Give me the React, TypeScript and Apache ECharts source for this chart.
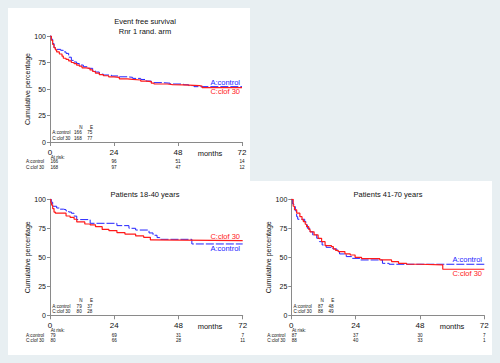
import React, { useEffect, useRef } from "react";
import * as echarts from "echarts";

// ---- data (months, survival %) ----
const p1Control: [number, number][] = [[0,100],[0.5,97],[1,93],[1.5,89],[2,87.4],[4,86.5],[5,85],[6,83.6],[7,80],[8,77],[9,75.5],[10,74],[11,72.6],[12.5,71],[14,69.5],[16,67.3],[17,66],[18.5,64],[20,63.2],[23,62.3],[26,61.5],[29,61],[31,60],[34,59],[36,57.5],[38,56],[42,55.5],[45,54.7],[50,54],[52,53.2],[54,52.2],[72,52.2]];
const p1Clof: [number, number][] = [[0,100],[0.5,96],[1,92],[1.5,89],[2,87],[2.5,85],[3.5,83],[4.5,81],[5,79],[6,78],[7,76.5],[8,75],[9,74],[10,72.5],[11,71.5],[12,70],[13.5,69.5],[15,68],[16,66.5],[17,65],[18.5,63.5],[20,62.5],[22,61.5],[24,61],[26,59.5],[29,59],[31,58.5],[34,57.5],[36,57],[38,55.5],[39,54.7],[44,54.2],[46,53.8],[50,53.2],[56,52.8],[57,51.3],[72,51.3]];
const p2Control: [number, number][] = [[0,100],[0.5,97.5],[1,94],[2.5,92.5],[3.5,91.5],[5,91],[6,90],[7,89],[8,88],[9,85.5],[10,82.5],[15,79.3],[25,77.3],[29.5,75],[32,73.5],[37,71],[38.5,69],[40,67],[41,65.5],[53,61.5],[72,61.5]];
const p2Clof: [number, number][] = [[0,100],[0.3,97],[0.6,95],[1,92],[1.5,89],[2,88],[6,85.6],[7.5,84.5],[9,82.8],[10,80.5],[13,78.7],[15,78],[17,76.4],[19.5,74],[22,73],[25,71.3],[28,70],[32,68.4],[35,67.2],[37.5,65],[38,64.4],[72,64.4]];
const p3Control: [number, number][] = [[0,100],[0.5,96],[1,93.7],[1.5,90],[2,85],[2.4,82.8],[5,80.7],[5.5,78],[6,75],[7,72],[8,69.3],[9.5,66.4],[10.5,63.5],[11.5,60.6],[13,58.6],[15.5,57.2],[17,55.7],[18,52.9],[20.5,50.6],[22.5,49.1],[25.5,47.7],[34,44.8],[36.5,44],[72,44]];
const p3Clof: [number, number][] = [[0,100],[0.7,94],[1.2,91],[2,88],[3.2,85],[4,82.5],[4.5,80.7],[5.2,78.5],[5.7,76.4],[6.5,74],[7,72],[8.5,69.3],[10,66.4],[11.3,63.5],[12.6,60],[15,59.2],[15.7,57.2],[16.5,56],[17.5,54.9],[20,52.9],[22,52],[23.8,50],[26.2,48.9],[33,47.7],[37.4,46.3],[40,44.8],[43,44],[48,43.5],[56.5,39.7],[72,39.7]];

const riskTicks = [0, 24, 48, 72];
const p1RiskControl = [166, 96, 51, 14];
const p1RiskClof = [168, 97, 47, 12];
const p2RiskControl = [79, 69, 31, 7];
const p2RiskClof = [80, 66, 28, 11];
const p3RiskControl = [87, 37, 30, 7];
const p3RiskClof = [88, 40, 33, 1];

const p1TableControl = [166, 75];
const p1TableClof = [168, 77];
const p2TableControl = [79, 37];
const p2TableClof = [80, 28];
const p3TableControl = [87, 48];
const p3TableClof = [88, 49];

const groupNames = ["A:control", "C:clof 30"];
const titles = [["Event free survival", "Rnr 1 rand. arm"], ["Patients 18-40 years"], ["Patients 41-70 years"]];

const BLUE = "#2222ff";
const RED = "#ff1a1a";
const AXIS = "#8a8a8a";
const TXT = "#111111";
const FONT = "Liberation Sans, Arial, sans-serif";

const panels = [
  { grid: { left: 50, top: 36, width: 192, height: 106 }, control: p1Control, clof: p1Clof, riskC: p1RiskControl, riskK: p1RiskClof, tabC: p1TableControl, tabK: p1TableClof, titleX: 145, titleY: [21, 31], labelY: [82, 91], labelRight: 240, monthsX: 210 },
  { grid: { left: 50, top: 199.3, width: 192.7, height: 116 }, control: p2Control, clof: p2Clof, riskC: p2RiskControl, riskK: p2RiskClof, tabC: p2TableControl, tabK: p2TableClof, titleX: 145, titleY: [194], labelY: [248.3, 236.3], labelRight: 240, monthsX: 210 },
  { grid: { left: 291.3, top: 199.3, width: 193, height: 116 }, control: p3Control, clof: p3Clof, riskC: p3RiskControl, riskK: p3RiskClof, tabC: p3TableControl, tabK: p3TableClof, titleX: 388, titleY: [194], labelY: [259.3, 273.3], labelRight: 482, monthsX: 452 },
];

function txt(x: number, y: number, text: string, size: number, align: string, color = TXT, extra: any = {}) {
  return { type: "text", x, y, silent: true, style: { text, fontSize: size, fontFamily: FONT, fill: color, align, verticalAlign: "middle" }, ...extra };
}

export default function App() {
  const ref = useRef<HTMLDivElement>(null);
  useEffect(() => {
    if (!ref.current) return;
    const chart = echarts.init(ref.current, undefined, { renderer: "svg" });
    const grid = panels.map((p) => p.grid);
    const xAxis = panels.map((_, i) => ({
      gridIndex: i, type: "value", min: 0, max: 72, interval: 24,
      axisLine: { show: true, onZero: false, lineStyle: { color: AXIS, width: 1 } },
      axisTick: { show: true, length: 4, lineStyle: { color: AXIS } },
      axisLabel: { fontSize: 8, color: TXT, margin: 6, fontFamily: FONT },
      splitLine: { show: false },
    }));
    const yAxis = panels.map((_, i) => ({
      gridIndex: i, type: "value", min: 0, max: 100, interval: 25,
      axisLine: { show: true, onZero: false, lineStyle: { color: AXIS, width: 1 } },
      axisTick: { show: true, length: 3, lineStyle: { color: AXIS } },
      axisLabel: { fontSize: 7, color: TXT, margin: 4, fontFamily: FONT },
      splitLine: { show: false },
    }));
    const series: any[] = [];
    panels.forEach((p, i) => {
      series.push({ type: "line", xAxisIndex: i, yAxisIndex: i, data: p.control, step: "end", symbol: "none", lineStyle: { color: BLUE, width: 1, type: [8, 2] }, z: 2 });
      series.push({ type: "line", xAxisIndex: i, yAxisIndex: i, data: p.clof, step: "end", symbol: "none", lineStyle: { color: RED, width: 1.2 }, z: 3 });
    });
    chart.setOption({ animation: false, backgroundColor: "#e8eff2", grid, xAxis, yAxis, series });

    const els: any[] = [
      { type: "rect", z: -10, silent: true, shape: { x: 8, y: 8, width: 242, height: 173 }, style: { fill: "#ffffff" } },
      { type: "rect", z: -10, silent: true, shape: { x: 8, y: 181, width: 484, height: 174 }, style: { fill: "#ffffff" } },
    ];
    panels.forEach((p, i) => {
      const g = p.grid;
      const bottom = g.top + g.height;
      titles[i].forEach((t, k) => els.push(txt(p.titleX, p.titleY[k], t, 7.5, "center")));
      els.push(txt(g.left - 23, g.top + g.height / 2, "Cumulative percentage", 7, "center", TXT, { rotation: Math.PI / 2 }));
      els.push(txt(p.monthsX, bottom + 11.5, "months", 7.5, "center"));
      els.push(txt(p.labelRight, p.labelY[0], groupNames[0], 7.5, "right", BLUE));
      els.push(txt(p.labelRight, p.labelY[1], groupNames[1], 7.5, "right", RED));
      // N / E table
      const fs = 4.6;
      els.push(txt(g.left + 32.5, bottom - 14.5, "N", fs, "right"));
      els.push(txt(g.left + 43, bottom - 14.5, "E", fs, "right"));
      [p.tabC, p.tabK].forEach((row, r) => {
        const yy = bottom - 9.3 + r * 5.5;
        els.push(txt(g.left + 2.3, yy, groupNames[r], fs, "left"));
        els.push(txt(g.left + 31.7, yy, String(row[0]), fs, "right"));
        els.push(txt(g.left + 42.3, yy, String(row[1]), fs, "right"));
      });
      // at risk
      els.push(txt(g.left + 0.7, bottom + 15.2, "At risk:", fs, "left"));
      [p.riskC, p.riskK].forEach((row, r) => {
        const yy = bottom + 19.8 + r * 5.2;
        els.push(txt(g.left - 24, yy, groupNames[r], fs, "left"));
        row.forEach((v, k) => {
          const px = chart.convertToPixel({ xAxisIndex: i } as any, riskTicks[k]) as number;
          els.push(txt(k === 0 ? px + 0.5 : px, yy, String(v), fs, k === 0 ? "left" : "center"));
        });
      });
    });
    chart.setOption({ graphic: { elements: els } });
    return () => chart.dispose();
  }, []);
  return <div ref={ref} style={{ position: "fixed", left: 0, top: 0, width: 500, height: 363 }} />;
}
